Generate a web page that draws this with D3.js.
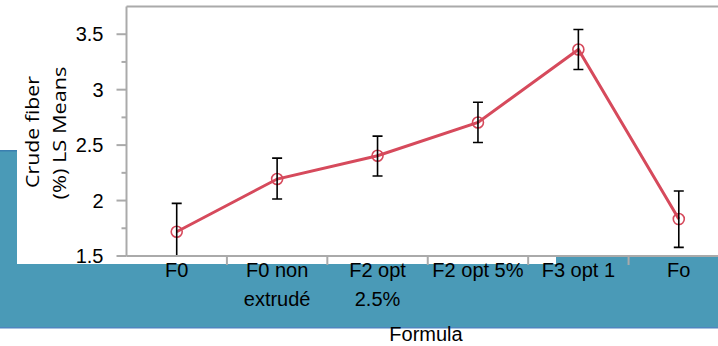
<!DOCTYPE html>
<html>
<head>
<meta charset="utf-8">
<script src="https://cdn.jsdelivr.net/npm/d3@7"></script>
<style>
body{margin:0;background:#fff;}
svg{display:block;}
</style>
</head>
<body>
<svg id="c" width="718" height="346"></svg>
<script>
const categories = [["F0"], ["F0 non", "extrudé"], ["F2 opt", "2.5%"], ["F2 opt 5%"], ["F3 opt 1"], ["Fo"]];
const means = [1.719, 2.194, 2.404, 2.704, 3.362, 1.833];
const lower = [1.463, 2.014, 2.221, 2.524, 3.182, 1.578];
const upper = [1.975, 2.383, 2.581, 2.887, 3.542, 2.086];
const yTicks = [1.5, 2, 2.5, 3, 3.5];
const yMinor = [1.75, 2.25, 2.75, 3.25];
const yTitle = ["Crude fiber", "(%) LS Means"];
const xTitle = "Formula";

const svg = d3.select("#c");
const W = 718, H = 346;
const blue = "#4a9ab7";

// background slide blocks
svg.append("rect").attr("x",0).attr("y",150).attr("width",W).attr("height",178).attr("fill",blue);
svg.append("rect").attr("x",0).attr("y",150).attr("width",17).attr("height",1.5).attr("fill","#3b7fb0");
svg.append("rect").attr("x",0).attr("y",327).attr("width",W).attr("height",1.5).attr("fill","#4f86c0");
svg.append("rect").attr("x",17).attr("y",0).attr("width",539).attr("height",264).attr("fill","#fff");
svg.append("rect").attr("x",556).attr("y",0).attr("width",W-556).attr("height",256.5).attr("fill","#fff");
svg.append("rect").attr("x",0).attr("y",0).attr("width",17).attr("height",150).attr("fill","#fff");

const x0 = 126.5, x1 = 729, yTop = 6.5, yBot = 256;
const x = d3.scaleBand().domain(d3.range(categories.length)).range([x0, x1]);
const y = d3.scaleLinear().domain([1.5, 3.75]).range([yBot, yTop]);

const gray = "#aaaaaa";
// frame
svg.append("line").attr("x1",x0).attr("x2",W).attr("y1",yTop).attr("y2",yTop).attr("stroke",gray).attr("stroke-width",2);
svg.append("line").attr("x1",x0).attr("x2",x0).attr("y1",yTop).attr("y2",yBot).attr("stroke",gray).attr("stroke-width",2);
svg.append("line").attr("x1",x0).attr("x2",W).attr("y1",yBot).attr("y2",yBot).attr("stroke",gray).attr("stroke-width",2);

// y ticks
const font = "'Liberation Sans', Arial, Helvetica, sans-serif";
yTicks.forEach(v=>{
  svg.append("line").attr("x1",x0-10).attr("x2",x0).attr("y1",y(v)).attr("y2",y(v)).attr("stroke",gray).attr("stroke-width",2);
  svg.append("text").attr("x",x0-23).attr("y",y(v)).attr("dy","0.36em").attr("text-anchor","end")
    .attr("font-family",font).attr("font-size",20).attr("fill","#000").text(String(v));
});
yMinor.forEach(v=>{
  svg.append("line").attr("x1",x0-5).attr("x2",x0).attr("y1",y(v)).attr("y2",y(v)).attr("stroke",gray).attr("stroke-width",2);
});

// x separators
for(let i=1;i<categories.length;i++){
  const xx = x(i);
  svg.append("line").attr("x1",xx).attr("x2",xx).attr("y1",yBot).attr("y2",yBot+9).attr("stroke",gray).attr("stroke-width",2);
}
// x labels
categories.forEach((lines,i)=>{
  const t = svg.append("text").attr("font-family",font).attr("font-size",20).attr("text-anchor","middle").attr("fill","#000");
  lines.forEach((s,j)=>{
    t.append("tspan").attr("x",x(i)+x.bandwidth()/2).attr("y",277+j*29).text(s);
  });
});
svg.append("text").attr("x",426).attr("y",341).attr("text-anchor","middle").attr("font-family",font).attr("font-size",20).text(xTitle);

// y title
const tf = "'Open Sans', 'Noto Sans', sans-serif";
svg.append("text").attr("transform",`translate(39,132) rotate(-90)`).attr("text-anchor","middle")
  .attr("font-family",tf).attr("font-size",19).attr("textLength",112).attr("lengthAdjust","spacingAndGlyphs").text(yTitle[0]);
svg.append("text").attr("transform",`translate(66,133) rotate(-90)`).attr("text-anchor","middle")
  .attr("font-family",tf).attr("font-size",19).attr("textLength",133).attr("lengthAdjust","spacingAndGlyphs").text(yTitle[1]);

// clip for plot
svg.append("clipPath").attr("id","pc").append("rect").attr("x",x0).attr("y",yTop).attr("width",W-x0).attr("height",yBot-yTop-1);
const g = svg.append("g").attr("clip-path","url(#pc)");
const red = "#d64a5c";
const cx = i => x(i)+x.bandwidth()/2;
g.append("path").datum(means).attr("fill","none").attr("stroke",red).attr("stroke-width",3)
  .attr("d", d3.line().x((d,i)=>cx(i)).y(d=>y(d)));
g.selectAll("circle").data(means).join("circle").attr("cx",(d,i)=>cx(i)).attr("cy",d=>y(d)).attr("r",5.5)
  .attr("fill","none").attr("stroke",red).attr("stroke-width",1.6);
means.forEach((m,i)=>{
  const c = cx(i);
  g.append("line").attr("x1",c).attr("x2",c).attr("y1",y(lower[i])).attr("y2",y(upper[i])).attr("stroke","#000").attr("stroke-width",1.6);
  [lower[i],upper[i]].forEach(v=>{
    g.append("line").attr("x1",c-5).attr("x2",c+5).attr("y1",y(v)).attr("y2",y(v)).attr("stroke","#000").attr("stroke-width",1.6);
  });
});
</script>
</body>
</html>
